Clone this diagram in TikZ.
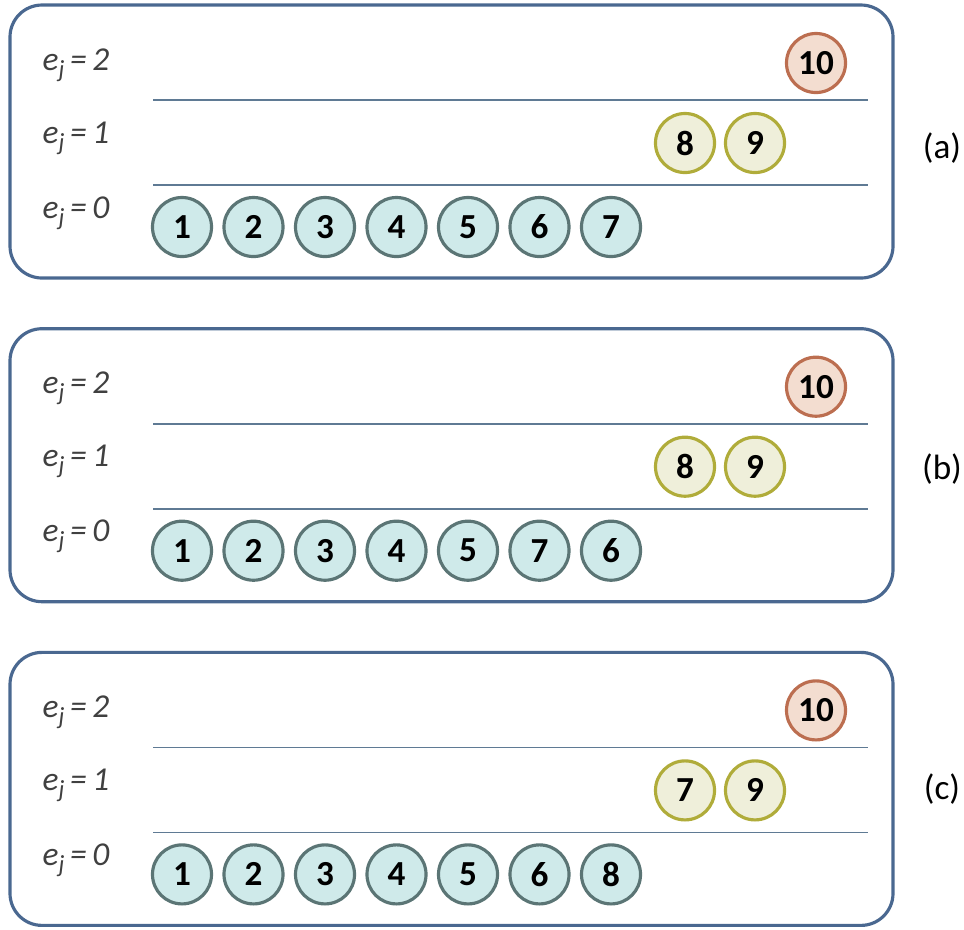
\documentclass[tikz,border=0pt]{standalone}
\usepackage{fontspec}
\setmainfont{Carlito}
\definecolor{panelblue}{HTML}{4A6890}
\definecolor{levelline}{HTML}{5F7A94}
\definecolor{labelgray}{HTML}{404040}
\definecolor{tealfill}{HTML}{CFEAEA}
\definecolor{tealdraw}{HTML}{5B7575}
\definecolor{olivefill}{HTML}{EFEFDA}
\definecolor{olivedraw}{HTML}{B0AC3A}
\definecolor{rustfill}{HTML}{F3DDD0}
\definecolor{rustdraw}{HTML}{BC6E50}
\newcommand{\elevel}[1]{e\raisebox{-0.45ex}{\scriptsize j}\,=\,#1}
\begin{document}
\begin{tikzpicture}[
    x=0.01cm, y=-0.01cm,
    panel/.style={draw=panelblue, line width=0.9pt, rounded corners=0.32cm},
    level/.style={draw=levelline, line width=0.45pt},
    elabel/.style={anchor=base west, inner sep=0pt, text=labelgray, font=\fontsize{9.5}{11}\selectfont\itshape},
    ball/.style={circle, minimum size=0.59cm, inner sep=0pt, line width=0.9pt, font=\fontsize{10}{12}\selectfont\bfseries},
    ball0/.style={ball, fill=tealfill, draw=tealdraw},
    ball1/.style={ball, fill=olivefill, draw=olivedraw},
    ball2/.style={ball, fill=rustfill, draw=rustdraw},
    tag/.style={font=\fontsize{10}{12}\selectfont, inner sep=0pt}
]
    \useasboundingbox (0,0) rectangle (964,929);

    % (a)
    \begin{scope}
        \draw[panel] (10,5) rectangle (893,278);
        \draw[level] (153,100) -- (868,100);
        \draw[level] (153,185) -- (868,185);
        \node[elabel] (a-e2) at (42,70) {\elevel{2}};
        \node[elabel] (a-e1) at (42,143) {\elevel{1}};
        \node[elabel] (a-e0) at (42,218) {\elevel{0}};
        \node[ball0] (a1) at (182,227) {1};
        \node[ball0] (a2) at (253.5,227) {2};
        \node[ball0] (a3) at (325,227) {3};
        \node[ball0] (a4) at (396.5,227) {4};
        \node[ball0] (a5) at (468,227) {5};
        \node[ball0] (a6) at (539.5,227) {6};
        \node[ball0] (a7) at (611,227) {7};
        \node[ball1] (a8) at (685,143) {8};
        \node[ball1] (a9) at (755,143) {9};
        \node[ball2] (a10) at (816,63) {10};
        \node[tag] (a-tag) at (942,148) {(a)};
    \end{scope}

    % (b)
    \begin{scope}[yshift=-3.235cm]
        \draw[panel] (10,5) rectangle (893,278);
        \draw[level] (153,100) -- (868,100);
        \draw[level] (153,185) -- (868,185);
        \node[elabel] (b-e2) at (42,70) {\elevel{2}};
        \node[elabel] (b-e1) at (42,143) {\elevel{1}};
        \node[elabel] (b-e0) at (42,218) {\elevel{0}};
        \node[ball0] (b1) at (182,227) {1};
        \node[ball0] (b2) at (253.5,227) {2};
        \node[ball0] (b3) at (325,227) {3};
        \node[ball0] (b4) at (396.5,227) {4};
        \node[ball0] (b5) at (468,227) {5};
        \node[ball0] (b7) at (539.5,227) {7};
        \node[ball0] (b6) at (611,227) {6};
        \node[ball1] (b8) at (685,143) {8};
        \node[ball1] (b9) at (755,143) {9};
        \node[ball2] (b10) at (816,63) {10};
        \node[tag] (b-tag) at (942,145) {(b)};
    \end{scope}

    % (c)
    \begin{scope}[yshift=-6.47cm]
        \draw[panel] (10,5) rectangle (893,278);
        \draw[level] (153,100) -- (868,100);
        \draw[level] (153,185) -- (868,185);
        \node[elabel] (c-e2) at (42,70) {\elevel{2}};
        \node[elabel] (c-e1) at (42,143) {\elevel{1}};
        \node[elabel] (c-e0) at (42,218) {\elevel{0}};
        \node[ball0] (c1) at (182,227) {1};
        \node[ball0] (c2) at (253.5,227) {2};
        \node[ball0] (c3) at (325,227) {3};
        \node[ball0] (c4) at (396.5,227) {4};
        \node[ball0] (c5) at (468,227) {5};
        \node[ball0] (c6) at (539.5,227) {6};
        \node[ball0] (c8) at (611,227) {8};
        \node[ball1] (c7) at (685,143) {7};
        \node[ball1] (c9) at (755,143) {9};
        \node[ball2] (c10) at (816,63) {10};
        \node[tag] (c-tag) at (942,142) {(c)};
    \end{scope}

\end{tikzpicture}
\end{document}
